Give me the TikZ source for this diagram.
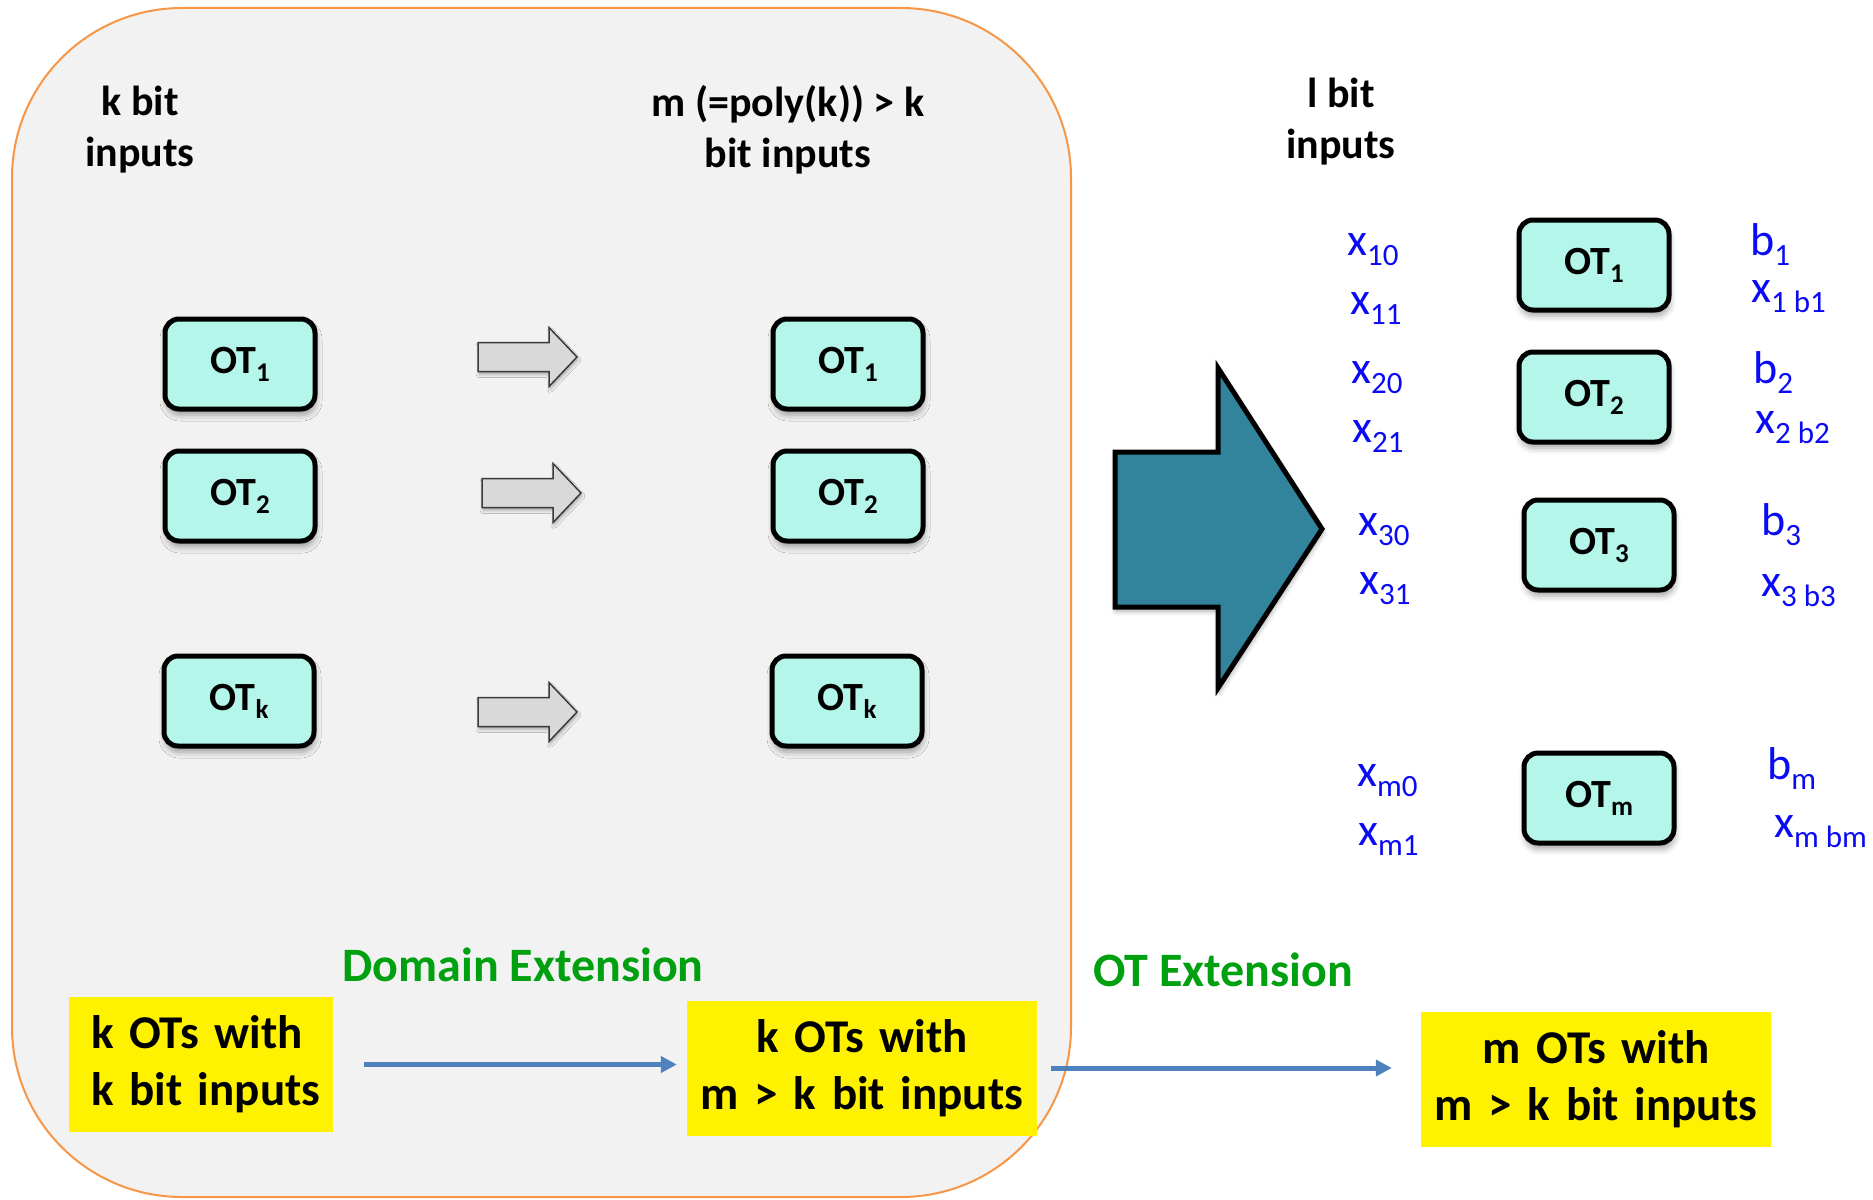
\documentclass[tikz,border=0pt]{standalone}
\usepackage{fontspec}
\setmainfont{Carlito}
\usetikzlibrary{shadows.blur,arrows.meta}

\definecolor{panelfill}{HTML}{F2F2F2}
\definecolor{panelline}{HTML}{F79646}
\definecolor{otfill}{HTML}{B4F6E9}
\definecolor{bigarrowfill}{HTML}{31849B}
\definecolor{labblue}{HTML}{0A0AF5}
\definecolor{extgreen}{HTML}{00A010}
\definecolor{flowblue}{HTML}{4F81BD}
\definecolor{grayfill}{HTML}{D9D9D9}
\definecolor{grayline}{HTML}{3A3A3A}

% OT label with a lowered index
\newcommand\otlab[1]{OT\raisebox{-0.2em}{\fontsize{27}{27}\selectfont #1}}
% input label with a lowered index
\newcommand\inlab[2]{#1\raisebox{-0.22em}{\fontsize{31}{31}\selectfont #2}}

\tikzset{
  panel/.style={draw=panelline, line width=2pt, fill=panelfill, rounded corners=170pt},
  headtext/.style={align=center, font=\fontsize{42}{51}\selectfont\bfseries, inner sep=0pt},
  otbox/.style={draw=black, line width=5pt, fill=otfill, rounded corners=14pt,
    minimum width=150pt, minimum height=90pt, inner sep=0pt,
    font=\fontsize{40}{48}\selectfont\bfseries,
    blur shadow={shadow xshift=1pt, shadow yshift=-6pt, shadow blur radius=6pt, shadow opacity=35}},
  inputlab/.style={text=labblue, font=\fontsize{46}{55}\selectfont, anchor=base west, inner sep=0pt},
  exttext/.style={text=extgreen, font=\fontsize{48}{57}\selectfont\bfseries, inner sep=0pt},
  ybox/.style={fill=yellow, font=\fontsize{47}{57}\selectfont\bfseries, inner sep=0pt,
    minimum height=135pt, align=center, text width=350pt},
  flow/.style={draw=flowblue, line width=5pt, -{Triangle[length=16pt, width=16pt]}},
  grayarrow/.style={draw=grayline, line width=1.5pt, fill=grayfill, line join=miter,
    blur shadow={shadow xshift=1pt, shadow yshift=-3pt, shadow blur radius=3pt, shadow opacity=30}},
  bigarrow/.style={draw=black, line width=5pt, fill=bigarrowfill, line join=miter,
    blur shadow={shadow xshift=1pt, shadow yshift=-4pt, shadow blur radius=5pt, shadow opacity=35}},
  pics/rightarrow/.style={code={
    \path[grayarrow] (-50,-14.5) -- (21,-14.5) -- (21,-29.5) -- (49,0)
      -- (21,29.5) -- (21,14.5) -- (-50,14.5) -- cycle;}}
}

\begin{document}
\begin{tikzpicture}[x=1pt, y=-1pt]
\useasboundingbox (0,0) rectangle (1873,1199);

% rounded panel holding the domain extension step
\path[panel] (12,8) rectangle (1071,1197);

% column headings
\node[headtext] (kbit) at (140,130) {k bit\\inputs};
\node[headtext] (mbit) at (788,130) {m (=poly(k)) > k\\bit inputs};
\node[headtext] (lbit) at (1341,122) {l bit\\inputs};

% k OTs with k bit inputs
\node[otbox] (ka1) at (240,364) {\otlab{1}};
\node[otbox] (ka2) at (240,496) {\otlab{2}};
\node[otbox] (kak) at (239,701) {\otlab{k}};

% k OTs with m bit inputs
\node[otbox] (kb1) at (848,364) {\otlab{1}};
\node[otbox] (kb2) at (848,496) {\otlab{2}};
\node[otbox] (kbk) at (847,701) {\otlab{k}};

% grey block arrows between the two columns
\pic at (528,357) {rightarrow};
\pic at (532,493) {rightarrow};
\pic at (528,712) {rightarrow};

% large block arrow
\path[bigarrow] (1115,452) -- (1218,452) -- (1218,368) -- (1322,529)
  -- (1218,688) -- (1218,607) -- (1115,607) -- cycle;

% m OTs with l bit inputs
\node[otbox] (m1) at (1594,265) {\otlab{1}};
\node[otbox] (m2) at (1594,397) {\otlab{2}};
\node[otbox] (m3) at (1599,545) {\otlab{3}};
\node[otbox] (mm) at (1599,798) {\otlab{m}};

% sender inputs
\node[inputlab] (x10) at (1347,255) {\inlab{x}{10}};
\node[inputlab] (x11) at (1350,314) {\inlab{x}{11}};
\node[inputlab] (x20) at (1351,383) {\inlab{x}{20}};
\node[inputlab] (x21) at (1352,442) {\inlab{x}{21}};
\node[inputlab] (x30) at (1358,535) {\inlab{x}{30}};
\node[inputlab] (x31) at (1359,594) {\inlab{x}{31}};
\node[inputlab] (xm0) at (1357,786) {\inlab{x}{m0}};
\node[inputlab] (xm1) at (1358,845) {\inlab{x}{m1}};

% receiver choices and outputs
\node[inputlab] (b1)  at (1750,255) {\inlab{b}{1}};
\node[inputlab] (y1)  at (1751,302) {\inlab{x}{1 b1}};
\node[inputlab] (b2)  at (1753,383) {\inlab{b}{2}};
\node[inputlab] (y2)  at (1755,433) {\inlab{x}{2 b2}};
\node[inputlab] (b3)  at (1761,535) {\inlab{b}{3}};
\node[inputlab] (y3)  at (1761,596) {\inlab{x}{3 b3}};
\node[inputlab] (bm)  at (1767,779) {\inlab{b}{m}};
\node[inputlab] (ym)  at (1774,837) {\inlab{x}{m bm}};

% step names
\node[exttext] (domext) at (523,965) {Domain Extension};
\node[exttext] (otext) at (1223,970) {OT Extension};

% summary boxes
\node[ybox, text width=240pt, align=left, minimum width=264pt, inner xsep=12pt]
  (yb1) at (201,1064.5) {\hspace*{10pt}k OTs with\\\hspace*{10pt}k bit inputs};
\node[ybox, minimum width=350pt] (yb2) at (862,1068) {k OTs with\\m > k bit inputs};
\node[ybox, minimum width=350pt] (yb3) at (1596,1079.5) {m OTs with\\m > k bit inputs};

\draw[flow, shorten <=31pt, shorten >=10pt] (yb1.east) -- (yb1.east -| yb2.west);
\draw[flow, shorten <=14pt, shorten >=29pt] (yb2.east) -- (yb2.east -| yb3.west);
\end{tikzpicture}
\end{document}
